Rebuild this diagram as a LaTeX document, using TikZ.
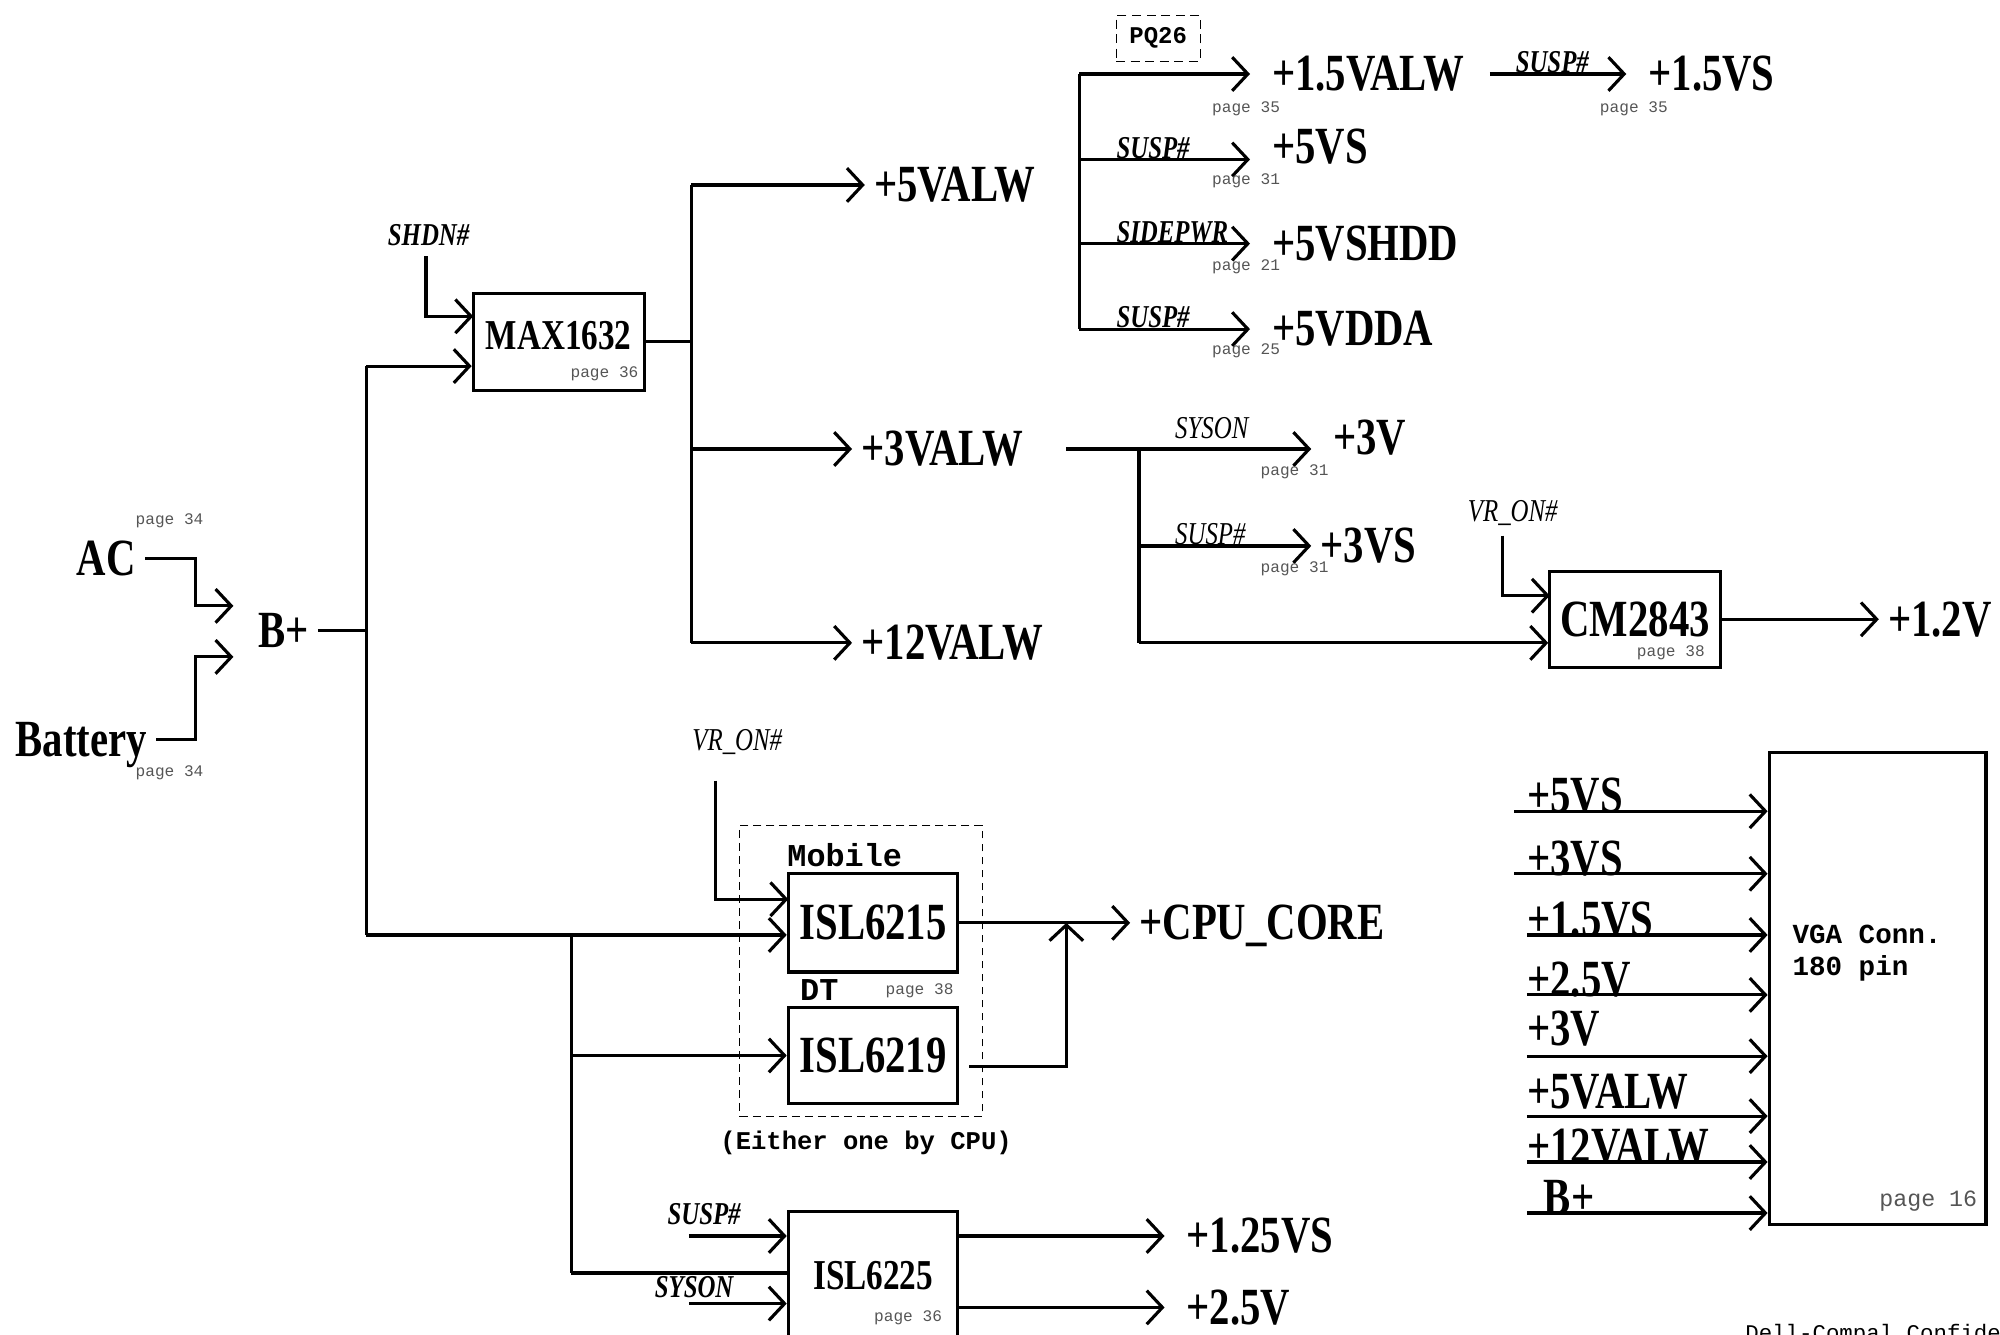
\documentclass[tikz,border=0pt]{standalone}
\usepackage{fontspec}
\setmainfont{Liberation Serif}
\setmonofont{Liberation Mono}
\newfontfamily\railfont[FakeStretch=0.78]{Liberation Serif}
\usetikzlibrary{arrows.meta, positioning, calc}
\definecolor{pagegray}{HTML}{555555}
\tikzset{
  wire/.style={line width=1.4pt},
  feed/.style={wire, -{Straight Barb[length=7pt, width=15pt]}},
  rail/.style={font=\railfont\bfseries\fontsize{23.3}{24}\selectfont, inner xsep=0.14cm, inner ysep=0pt, anchor=west},
  chipbox/.style={draw, line width=1.4pt, inner sep=0pt, font=\railfont\bfseries\fontsize{23.3}{24}\selectfont},
  chipsmall/.style={chipbox, font=\railfont\bfseries\fontsize{19}{20}\selectfont},
  signame/.style={font=\railfont\bfseries\itshape\fontsize{14.2}{15}\selectfont, inner sep=0pt},
  signthin/.style={font=\railfont\itshape\fontsize{14.2}{15}\selectfont, inner sep=0pt},
  pageref/.style={font=\ttfamily\fontsize{7.2}{8}\selectfont, text=pagegray, inner sep=0pt, anchor=west},
  monotag/.style={font=\ttfamily\bfseries\fontsize{14.2}{15}\selectfont, inner sep=0pt},
  groupbox/.style={draw, line width=0.5pt, dash pattern=on 3.5pt off 2.3pt},
}

\begin{document}
\begin{tikzpicture}[x=0.02cm, y=-0.02cm]
  \useasboundingbox (0,0) rectangle (1568,1046);

  % AC / battery into B+
  \node[rail] (ac) at (53,438) {AC};
  \node[pageref] (acpg) at (106,408) {page 34};
  \node[rail] (bat) at (5,584) {Battery};
  \node[pageref] (batpg) at (106,606) {page 34};
  \node[rail] (bplus) at (195,494) {B+};
  \coordinate (acj) at (153,438);
  \coordinate (batj) at (153,580);
  \coordinate (bin1) at (183,475);
  \coordinate (bin2) at (183,515);
  \draw[feed] (ac.east) -- (acj) |- (bin1);
  \draw[feed] (bat.east |- batj) -- (batj) |- (bin2);
  \coordinate (bbtop) at (287,287);
  \coordinate (bbbot) at (287,733);
  \draw[wire] (bplus.east) -- (bplus.east -| bbtop);
  \draw[wire] (bbtop) -- (bbbot);

  % MAX1632
  \node[chipsmall, minimum width=2.68cm, minimum height=1.52cm, text depth=0.2cm] (max) at (438,268) {MAX1632};
  \node[pageref] (maxpg) at (447,293) {page 36};
  \node[signame] (shdn) at (336,184) {SHDN\#};
  \coordinate (shdnj) at (334,201);
  \coordinate (maxen) at (371,248);
  \draw[feed] (shdnj) |- (maxen);
  \draw[feed] (bbtop) -- (bbtop -| max.west);
  \coordinate (batop) at (542,145);
  \coordinate (babot) at (542,504);
  \draw[wire] (max.east) -- (max.east -| batop);
  \draw[wire] (batop) -- (babot);
  \node[rail] (v5alw) at (678,145) {+5VALW};
  \node[rail] (v3alw) at (668,352) {+3VALW};
  \node[rail] (v12alw) at (668,504) {+12VALW};
  \draw[feed] (batop) -- (v5alw.west);
  \draw[feed] (batop |- v3alw.west) -- (v3alw.west);
  \draw[feed] (babot) -- (v12alw.west);

  % +5V branches
  \node[groupbox, minimum width=1.32cm, minimum height=0.72cm, dash pattern=on 4pt off 2.5pt,
        font=\ttfamily\bfseries\fontsize{10.7}{11}\selectfont] (pq) at (908,30) {PQ26};
  \coordinate (bctop) at (846,58);
  \coordinate (bcbot) at (846,258);
  \draw[wire] (bctop) -- (bcbot);
  \node[rail] (v15alw) at (990,58) {+1.5VALW};
  \node[rail] (v5vs) at (990,115) {+5VS};
  \node[rail] (v5vshdd) at (990,191) {+5VSHDD};
  \node[rail] (v5vdda) at (990,258) {+5VDDA};
  \node[rail] (v15vs) at (1285,58) {+1.5VS};
  \coordinate (t5vs) at (980,125);
  \coordinate (s15j) at (1168,58);
  \draw[feed, shorten >=0.2cm] (bctop) -- (v15alw.west);
  \draw[feed] (bctop |- t5vs) -- (t5vs);
  \draw[feed, shorten >=0.2cm] (bctop |- v5vshdd.west) -- (v5vshdd.west);
  \draw[feed, shorten >=0.2cm] (bcbot) -- (v5vdda.west);
  \draw[feed, shorten >=0.2cm] (s15j) -- (v15vs.west);
  \node[signame, anchor=base west] (s15vs) at (1188,57) {SUSP\#};
  \node[signame, anchor=base west] (s5vs) at (875,124) {SUSP\#};
  \node[signame, anchor=base west] (s5vshdd) at (875,190) {SIDEPWR};
  \node[signame, anchor=base west] (s5vdda) at (875,257) {SUSP\#};
  \node[pageref] (pg15alw) at (950,85) {page 35};
  \node[pageref] (pg15vs) at (1254,85) {page 35};
  \node[pageref] (pg5vs) at (950,142) {page 31};
  \node[pageref] (pg5vshdd) at (950,209) {page 21};
  \node[pageref] (pg5vdda) at (950,275) {page 25};

  % +3V branches
  \coordinate (bdstart) at (836,352);
  \coordinate (bdtop) at (893,352);
  \coordinate (bdbot) at (893,504);
  \coordinate (t3v) at (1028,352);
  \draw[feed] (bdstart) -- (t3v);
  \draw[wire] (bdtop) -- (bdbot);
  \node[rail] (v3v) at (1038,343) {+3V};
  \node[rail] (v3vs) at (1028,428) {+3VS};
  \draw[feed] (bdtop |- v3vs.west) -- (v3vs.west);
  \node[signthin, anchor=base west] (s3v) at (921,344) {SYSON};
  \node[signthin, anchor=base west] (s3vs) at (921,427) {SUSP\#};
  \node[pageref] (pg3v) at (988,370) {page 31};
  \node[pageref] (pg3vs) at (988,446) {page 31};

  % CM2843
  \node[chipbox, minimum width=2.68cm, minimum height=1.5cm] (cm) at (1282,485.5) {CM2843};
  \node[pageref] (cmpg) at (1283,512) {page 38};
  \draw[feed] (bdbot) -- (bdbot -| cm.west);
  \node[signthin] (vron1) at (1186,402) {VR\_ON\#};
  \coordinate (vr1j) at (1178,420);
  \coordinate (cmen) at (1215,467);
  \draw[feed] (vr1j) |- (cmen);
  \node[rail] (v12v) at (1473,485.5) {+1.2V};
  \draw[feed] (cm.east) -- (v12v.west);

  % CPU core
  \node[groupbox, minimum width=3.8cm, minimum height=4.56cm] (cpugrp) at (675,761) {};
  \node[chipbox, minimum width=2.66cm, minimum height=1.54cm] (isl15) at (684.5,723.5) {ISL6215};
  \node[chipbox, minimum width=2.66cm, minimum height=1.5cm] (isl19) at (684.5,827.5) {ISL6219};
  \node[monotag, anchor=south west] (mob) at (617,680) {Mobile};
  \node[monotag, anchor=south west] (dt) at (627,785) {DT};
  \node[pageref] (isl19pg) at (694,777) {page 38};
  \node[monotag, font=\ttfamily\bfseries\fontsize{11.4}{12}\selectfont] (either) at (679,896) {(Either one by CPU)};
  \coordinate (bebot) at (448,998);
  \draw[feed] (bbbot) -- (bbbot -| isl15.west);
  \draw[wire] (bbbot -| bebot) -- (bebot);
  \draw[feed] (bebot |- isl19.west) -- (isl19.west);
  \node[signthin] (vron2) at (578,582) {VR\_ON\#};
  \coordinate (vr2j) at (561,612);
  \coordinate (islen) at (618,705);
  \draw[feed] (vr2j) |- (islen);
  \node[rail] (vcore) at (886,725.5) {+CPU\_CORE};
  \draw[feed] (isl15.east) -- (isl15.east -| vcore.west);
  \coordinate (isl19out) at (760,836);
  \coordinate (corej) at (836,723.5);
  \draw[feed] (isl19out) -| (corej);

  % ISL6225
  \node[chipsmall, minimum width=2.66cm, minimum height=2cm] (isl25) at (684.5,1000) {ISL6225\hspace{0.35cm}};
  \node[pageref] (isl25pg) at (685,1033) {page 36};
  \draw[wire] (bebot) -- (bebot -| isl25.west);
  \node[signame, anchor=base west] (s25a) at (523,960) {SUSP\#};
  \node[signame, anchor=base west] (s25b) at (513,1017) {SYSON};
  \coordinate (i25a) at (540,969);
  \coordinate (i25b) at (540,1022);
  \draw[feed] (i25a) -- (i25a -| isl25.west);
  \draw[feed] (i25b) -- (i25b -| isl25.west);
  \node[rail] (v125vs) at (923,969) {+1.25VS};
  \node[rail] (v25v) at (923,1025) {+2.5V};
  \draw[feed, shorten >=0.2cm] (isl25.east |- v125vs.west) -- (v125vs.west);
  \draw[feed, shorten >=0.2cm] (isl25.east |- v25v.west) -- (v25v.west);

  % VGA connector
  \node[draw, line width=1.4pt, minimum width=3.4cm, minimum height=7.4cm] (vga) at (1472,775) {};
  \node[monotag, font=\ttfamily\bfseries\fontsize{12.3}{14.2}\selectfont, align=left, anchor=west] (vgatxt) at (1405,747.5) {VGA Conn.\\180 pin};
  \node[pageref, font=\ttfamily\fontsize{10.4}{11}\selectfont] (vgapg) at (1473,942) {page 16};
  \foreach \ly/\lx/\ty/\tx/\lbl in {636/1187/637/1190/+5VS, 685/1187/686/1190/+3VS,
      733/1197/734/1190/+1.5VS, 780/1197/781/1190/+2.5V, 828/1197/820/1190/+3V,
      875/1197/869/1190/+5VALW, 911/1197/912/1190/+12VALW, 951/1197/952/1203/B+}{
    \coordinate (vin\ly) at (\lx,\ly);
    \draw[feed] (vin\ly) -- (vin\ly -| vga.west);
    \node[rail, anchor=base west] (vlbl\ly) at (\tx,\ty) {\lbl};
  }

  \node[font=\ttfamily\fontsize{10}{10}\selectfont, anchor=base west, inner sep=0pt] (conf) at (1368,1051) {Dell-Compal Confidential};
\end{tikzpicture}
\end{document}
